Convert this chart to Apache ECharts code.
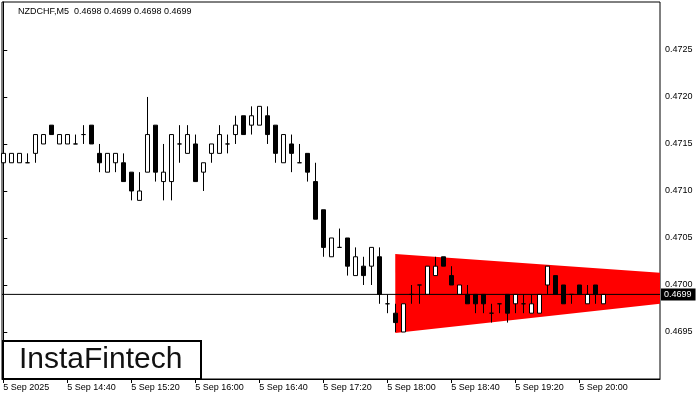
<!DOCTYPE html>
<html><head><meta charset="utf-8">
<script src="https://cdn.jsdelivr.net/npm/echarts@6/dist/echarts.min.js"></script>
<style>html,body{margin:0;padding:0;background:#fff}#c{width:700px;height:400px}</style>
</head><body><div id="c"></div>
<script>
const symbolName = 'NZDCHF,M5';
const opens  = [0.4713,0.4713,0.4713,0.4713,0.4714,0.4715,0.4717,0.4715,0.4715,0.4715,
                0.4716,0.4717,0.4714,0.4712,0.4713,0.4713,0.4712,0.4709,0.4712,0.4717,
                0.4711,0.4711,0.4715,0.4714,0.4715,0.4712,0.4714,0.4714,0.4715,0.4716,
                0.4718,0.4717,0.4717,0.4718,0.4717,0.4713,0.4715,0.4713,0.4714,0.4711,
                0.4708,0.4703,0.4704,0.4705,0.4701,0.4702,0.4702,0.4703,0.4698,0.4697,
                0.4695,0.4699,0.4700,0.4699,0.4701,0.4703,0.4701,0.4699,0.4699,0.4699,
                0.4699,0.4697,0.4698,0.4699,0.4698,0.4698,0.4697,0.4697,0.4700,0.4701,
                0.4700,0.4699,0.4700,0.4698,0.4700,0.4698];
const closes = [0.4714,0.4714,0.4714,0.4713,0.4716,0.4716,0.4716,0.4716,0.4716,0.4715,
                0.4716,0.4715,0.4713,0.4714,0.4714,0.4711,0.4710,0.4710,0.4716,0.4712,
                0.4712,0.4716,0.4715,0.4716,0.4711,0.4713,0.4715,0.4716,0.4715,0.4717,
                0.4716,0.4718,0.4719,0.4716,0.4714,0.4716,0.4714,0.4713,0.4712,0.4707,
                0.4704,0.4705,0.4704,0.4702,0.4703,0.4701,0.4704,0.4699,0.4698,0.4696,
                0.4698,0.4699,0.4700,0.4702,0.4702,0.4702,0.4700,0.4700,0.4698,0.4698,
                0.4698,0.4697,0.4698,0.4697,0.4699,0.4698,0.4698,0.4699,0.4702,0.4699,
                0.4698,0.4699,0.4699,0.4699,0.4699,0.4699];
const lows   = [0.4713,0.4713,0.4713,0.4713,0.4713,0.4715,0.4716,0.4715,0.4715,0.4715,
                0.4715,0.4715,0.4712,0.4712,0.4712,0.4711,0.4709,0.4709,0.4712,0.4711,
                0.4709,0.4709,0.4713,0.4714,0.4711,0.4710,0.4713,0.4714,0.4714,0.4715,
                0.4716,0.4716,0.4717,0.4715,0.4713,0.4713,0.4712,0.4713,0.4711,0.4707,
                0.4703,0.4703,0.4704,0.4701,0.4701,0.4700,0.4700,0.4698,0.4697,0.4695,
                0.4695,0.4698,0.4698,0.4699,0.4701,0.4702,0.4700,0.4699,0.4698,0.4697,
                0.4697,0.4696,0.4697,0.4696,0.4697,0.4697,0.4697,0.4697,0.4699,0.4699,
                0.4698,0.4698,0.4699,0.4698,0.4698,0.4698];
const highs  = [0.4714,0.4714,0.4714,0.4714,0.4716,0.4716,0.4717,0.4716,0.4716,0.4716,
                0.4717,0.4717,0.4715,0.4714,0.4714,0.4714,0.4712,0.4712,0.4720,0.4717,
                0.4715,0.4716,0.4717,0.4717,0.4716,0.4713,0.4715,0.4717,0.4716,0.4718,
                0.4718,0.4719,0.4719,0.4719,0.4717,0.4716,0.4716,0.4715,0.4714,0.4713,
                0.4708,0.4705,0.4706,0.4705,0.4704,0.4703,0.4704,0.4704,0.4699,0.4698,
                0.4698,0.4700,0.4700,0.4702,0.4703,0.4703,0.4702,0.4700,0.4700,0.4699,
                0.4699,0.4698,0.4698,0.4699,0.4699,0.4699,0.4699,0.4699,0.4702,0.4701,
                0.4700,0.4699,0.4700,0.4700,0.4700,0.4699];
const xTickIndex = [0, 8, 16, 24, 32, 40, 48, 56, 64, 72];
const xTickLabels = ['5 Sep 2025','5 Sep 14:40','5 Sep 15:20','5 Sep 16:00','5 Sep 16:40',
                     '5 Sep 17:20','5 Sep 18:00','5 Sep 18:40','5 Sep 19:20','5 Sep 20:00'];
const yTicks = [0.4695, 0.4700, 0.4705, 0.4710, 0.4715, 0.4720, 0.4725];
const xRange = [-0.16, 82.09];
const yRange = [0.4690, 0.47301];
const currentPrice = 0.4699;
// symmetrical triangle pattern (bar index, price)
const patternX = [49, 82.09];
const patternTop = [0.47033, 0.47013];
const patternBottom = [0.46949, 0.46980];

const candleData = opens.map((o, i) => [i, o, closes[i], lows[i], highs[i]]);
const last = opens.length - 1;
const headerText = symbolName + '  ' + [opens[last], highs[last], lows[last], closes[last]].map(v => v.toFixed(4)).join(' ');
const FONT = '"Liberation Sans", Arial, sans-serif';

const chart = echarts.init(document.getElementById('c'), null, {renderer: 'canvas'});
chart.setOption({
  animation: false,
  backgroundColor: '#fff',
  grid: {left: 2, right: 40, top: 2, bottom: 21, show: true, borderColor: '#000', borderWidth: 1, backgroundColor: '#fff'},
  xAxis: {
    type: 'value', min: xRange[0], max: xRange[1],
    splitLine: {show: false},
    axisLine: {show: true, onZero: false, lineStyle: {color: '#000', width: 1}},
    axisTick: {show: true, length: 4, customValues: xTickIndex, lineStyle: {color: '#000'}},
    axisLabel: {
      customValues: xTickIndex, align: 'left', margin: 4, fontSize: 9, color: '#000', fontFamily: FONT,
      formatter: v => { const j = xTickIndex.indexOf(Math.round(v)); return j >= 0 ? xTickLabels[j] : ''; }
    }
  },
  yAxis: {
    type: 'value', position: 'right', min: yRange[0], max: yRange[1], scale: true,
    splitLine: {show: false},
    axisLine: {show: true, lineStyle: {color: '#000', width: 1}},
    axisTick: {show: true, length: 4, customValues: yTicks, lineStyle: {color: '#000'}},
    axisLabel: {customValues: yTicks, margin: 5, fontSize: 9, color: '#000', fontFamily: FONT,
      formatter: v => v.toFixed(4)}
  },
  graphic: [
    {type: 'text', left: 18, top: 7, z: 100, style: {text: headerText, font: '9px ' + FONT, fill: '#000'}},
    {type: 'rect', left: 2, top: 340, z: 100, shape: {x: 0, y: 0, width: 198, height: 38},
      style: {fill: '#fff', stroke: '#000', lineWidth: 2}},
    {type: 'text', left: 19, top: 345, z: 101, style: {text: 'InstaFintech', font: '30px ' + FONT, fill: '#111'}}
  ],
  series: [
    {
      type: 'custom', z: 1, silent: true, clip: true,
      data: [[patternX[0], patternTop[0]]],
      encode: {x: 0, y: 1},
      renderItem: (params, api) => {
        const pts = [
          api.coord([patternX[0], patternTop[0]]),
          api.coord([patternX[1], patternTop[1]]),
          api.coord([patternX[1], patternBottom[1]]),
          api.coord([patternX[0], patternBottom[0]])
        ];
        return {type: 'polygon', shape: {points: pts}, style: {fill: '#ff0000'}};
      }
    },
    {
      type: 'line', z: 4, silent: true, symbol: 'none',
      data: [[xRange[0], currentPrice], [xRange[1], currentPrice]],
      lineStyle: {color: '#000', width: 1},
      emphasis: {disabled: true},
      endLabel: {show: true, distance: 1, formatter: () => currentPrice.toFixed(4), color: '#fff',
        backgroundColor: '#000', padding: [2, 4, 1, 3], fontSize: 9, fontFamily: FONT}
    },
    {
      type: 'candlestick', z: 3,
      data: candleData,
      encode: {x: 0, y: [1, 2, 3, 4]},
      barWidth: 4,
      itemStyle: {color: '#fff', color0: '#000', borderColor: '#000', borderColor0: '#000', borderColorDoji: '#000', borderWidth: 1},
      emphasis: {disabled: true}
    }
  ]
});
</script>
</body></html>
